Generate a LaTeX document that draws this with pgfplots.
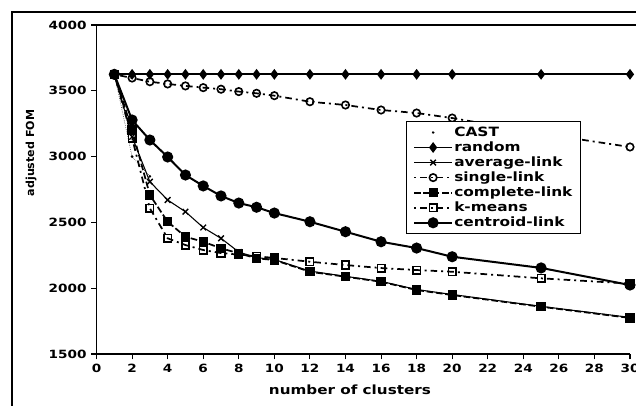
\documentclass[border=0pt]{standalone}
\usepackage{fontspec}
\setmainfont[FakeStretch=1.2]{DejaVu Sans}
\newfontfamily\ylabelfont{DejaVu Sans}
\usepackage{pgfplots}
\pgfplotsset{compat=1.18}

\begin{document}
\begin{tikzpicture}
% outer chart frame (left and top edges)
\draw[line width=0.8pt] (9pt,-2pt) -- (9pt,295.5pt) -- (480pt,295.5pt);

\begin{axis}[
  name=ax,
  at={(72.4pt,39pt)}, anchor=south west,
  scale only axis,
  width=400.1pt, height=246.75pt,
  xmin=0, xmax=30, ymin=1500, ymax=4000,
  xtick={0,2,...,30}, ytick={1500,2000,...,4000},
  axis x line*=bottom, axis y line*=left,
  axis line style={line width=1pt,-},
  tick style={line width=0.8pt,black},
  tick align=outside, major tick length=4pt,
  tick label style={font=\fontsize{8.5}{8.5}\selectfont\bfseries},
  /pgf/number format/assume math mode=true,
  /pgf/number format/1000 sep={},
  xlabel={number of clusters},
  ylabel={\ylabelfont\bfseries adjusted FOM},
  every axis x label/.style={at={(rel axis cs:0.475,-0.108)},anchor=center,
    font=\fontsize{9.5}{9.5}\selectfont\bfseries},
  every axis y label/.style={at={(rel axis cs:-0.1228,0.611)},anchor=center,
    rotate=90,font=\fontsize{8.3}{8.3}\selectfont},
  clip=false,
  legend image code/.code={\draw[mark repeat=2,mark phase=2]
    plot coordinates {(0cm,0cm) (0.5cm,0cm) (1.0cm,0cm)};},
  legend style={at={(axis cs:17.4,3270)}, anchor=north west,
    draw=black, line width=0.8pt, fill=white,
    font=\fontsize{9.6}{9.6}\selectfont\bfseries,
    inner ysep=3pt, inner xsep=5pt, row sep=0.7pt,
    nodes={inner sep=0.9pt}},
  legend cell align=left,
]

\addplot[black, line width=0.4pt, densely dotted, mark=*, mark size=0.8pt,
  mark options={solid},
  legend image code/.code={\fill (0.5cm,0pt) circle (0.9pt);}]
  coordinates {(1,3625)(2,3000)(3,2850)};
\addlegendentry{CAST}

\addplot[black, line width=1.3pt, mark=diamond*, mark size=3pt]
  coordinates {(1,3625)(2,3625)(3,3625)(4,3625)(5,3625)(6,3625)(7,3625)
    (8,3625)(9,3625)(10,3625)(12,3625)(14,3625)(16,3625)(18,3625)
    (20,3625)(25,3625)(30,3625)};
\addlegendentry{random}

\addplot[black, line width=0.8pt, mark=x, mark size=3pt,
  mark options={line width=1pt}]
  coordinates {(1,3625)(2,3150)(3,2809)(4,2670)(5,2581)(6,2461)(7,2379)
    (8,2275)(9,2232)(10,2218)(12,2130)(14,2090)(16,2052)(18,1990)
    (20,1952)(25,1862)(30,1778)};
\addlegendentry{average-link}

\addplot[black, line width=1.3pt, dash pattern=on 1.5pt off 3pt on 5pt off 3pt,
  mark=o, mark size=2.8pt, mark options={solid, fill=white, line width=1.2pt}]
  coordinates {(1,3625)(2,3597)(3,3569)(4,3552)(5,3537)(6,3524)(7,3512)
    (8,3494)(9,3481)(10,3463)(12,3417)(14,3392)(16,3354)(18,3331)
    (20,3293)(25,3175)(30,3073)};
\addlegendentry{single-link}

\addplot[black, line width=1.3pt, dash pattern=on 5pt off 2pt,
  mark=square*, mark size=2.8pt, mark options={solid}]
  coordinates {(1,3625)(2,3202)(3,2708)(4,2505)(5,2391)(6,2353)(7,2303)
    (8,2265)(9,2227)(10,2214)(12,2125)(14,2087)(16,2049)(18,1986)
    (20,1948)(25,1859)(30,1774)};
\addlegendentry{complete-link}

\addplot[black, line width=1.3pt, dash pattern=on 1.5pt off 3pt on 5pt off 3pt,
  mark=square, mark size=2.8pt, mark options={solid, fill=white, line width=1.2pt}]
  coordinates {(1,3625)(2,3141)(3,2607)(4,2379)(5,2328)(6,2290)(7,2267)
    (8,2255)(9,2242)(10,2230)(12,2201)(14,2176)(16,2153)(18,2138)
    (20,2125)(25,2075)(30,2035)};
\addlegendentry{k-means}

\addplot[black, line width=1.5pt, mark=*, mark size=3.4pt]
  coordinates {(1,3625)(2,3278)(3,3126)(4,2997)(5,2860)(6,2777)(7,2701)
    (8,2647)(9,2615)(10,2571)(12,2505)(14,2429)(16,2353)(18,2305)
    (20,2239)(25,2154)(30,2024)};
\addlegendentry{centroid-link}
\end{axis}

% top edge of the plot area
\draw[line width=1pt] (ax.north west) -- ++(420pt,0pt);

\pgfresetboundingbox
\path[use as bounding box] (0pt,0pt) rectangle (477pt,304.5pt);
\end{tikzpicture}
\end{document}
